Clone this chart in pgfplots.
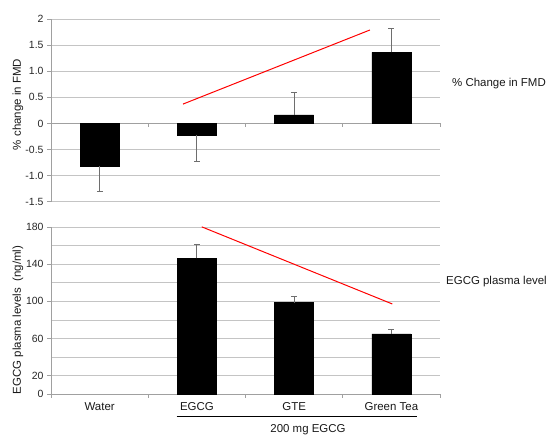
\documentclass[border=0pt]{standalone}
\usepackage{pgfplots}
\pgfplotsset{compat=1.18}
\usepackage{fontspec}
\setmainfont{Liberation Sans}
\definecolor{gridc}{RGB}{196,196,196}
\definecolor{axc}{RGB}{160,160,160}
\definecolor{errc}{RGB}{110,110,110}
\begin{document}
\begin{tikzpicture}
\path[use as bounding box] (0,0) rectangle (553bp,-435bp);
\pgfplotsset{
  common/.style={
    scale only axis, width=389bp,
    xmin=-0.5, xmax=3.5,
    ymajorgrids, grid style={gridc, line width=0.8pt},
    axis line style={axc, line width=0.8pt},
    ytick style={axc, line width=0.8pt},
    xtick style={draw=none},
    tick align=outside, major tick length=4bp,
    /pgf/number format/assume math mode=true,
    yticklabel style={font=\fontsize{10.5}{12}\selectfont, text=black!85},
    clip=false,
  },
  barstyle/.style={ybar, bar width=39bp, bar shift=0pt, fill=black, draw=black,
    error bars/y explicit,
    error bars/error bar style={errc, line width=0.8pt},
    error bars/error mark options={errc, line width=0.8pt, mark size=3bp, rotate=90}},
}
% ---------- top panel: % change in FMD ----------
\begin{axis}[common, at={(51bp,-201.7bp)}, anchor=south west, height=182.7bp,
  ymin=-1.5, ymax=2, ytick={-1.5,-1,-0.5,0,0.5,1,1.5,2},
  yticklabels={\mbox{-1.5},\mbox{-1.0},\mbox{-0.5},\mbox{0},\mbox{0.5},\mbox{1.0},\mbox{1.5},\mbox{2}},
  axis y line*=left, axis x line*=middle,
  xtick=\empty,
]
\addplot[barstyle, error bars/y dir=minus] coordinates {(0,-0.82) +- (0,0.48) (1,-0.22) +- (0,0.51)};
\addplot[barstyle, error bars/y dir=plus] coordinates {(2,0.165) +- (0,0.42) (3,1.36) +- (0,0.46)};
\addplot[red, line width=1pt, no marks] coordinates {(0.857,0.37) (2.78,1.79)};
\foreach \t in {0.5,1.5,2.5,3.5}{\edef\tmp{\noexpand\draw[axc, line width=0.8pt] (axis cs:\t,0) -- ([yshift=-4bp]axis cs:\t,0);}\tmp}
\end{axis}
% ---------- bottom panel: EGCG plasma levels ----------
\begin{axis}[common, at={(51bp,-394bp)}, anchor=south west, height=166.7bp,
  ymin=0, ymax=180, ytick={0,20,60,100,140,180},
  minor ytick={40,80,120,160}, yminorgrids, minor grid style={gridc, line width=0.8pt},
  minor tick length=0pt,
  axis lines*=left,
  xtick={0,1,2,3}, xticklabels={Water,EGCG,GTE,Green Tea},
  xticklabel style={font=\fontsize{11.5}{13}\selectfont, text=black!90, anchor=base, yshift=-12.5bp},
]
\addplot[barstyle, error bars/y dir=plus] coordinates {(1,146.5) +- (0,15.5) (2,98.6) +- (0,6.4) (3,65) +- (0,5)};
\addplot[red, line width=1pt, no marks] coordinates {(1.05,180.5) (3.01,97.2)};
\foreach \t in {-0.5,0.5,1.5,2.5,3.5}{\edef\tmp{\noexpand\draw[axc, line width=0.8pt] (axis cs:\t,0) -- ([yshift=-4bp]axis cs:\t,0);}\tmp}
\end{axis}
% ---------- labels ----------
\node[rotate=90, inner sep=0pt, font=\fontsize{11.5}{13}\selectfont, text=black!90] at (18bp,-104.5bp) {\% change in FMD};
\node[rotate=90, inner sep=0pt, font=\fontsize{11.5}{13}\selectfont, text=black!90] at (18bp,-320bp) {EGCG plasma levels\ \ (ng/ml)};
\node[anchor=west, inner sep=0pt, font=\fontsize{11.5}{13}\selectfont, text=black!90] at (452bp,-84bp) {\% Change in FMD};
\node[anchor=west, inner sep=0pt, font=\fontsize{11.5}{13}\selectfont, text=black!90] at (446bp,-282bp) {EGCG plasma level};
\draw[black, line width=0.9pt] (176.7bp,-416.7bp) -- (416.7bp,-416.7bp);
\node[anchor=base, inner sep=0pt, font=\fontsize{11.5}{13}\selectfont, text=black!90] at (308bp,-432.3bp) {200 mg EGCG};
\end{tikzpicture}
\end{document}
